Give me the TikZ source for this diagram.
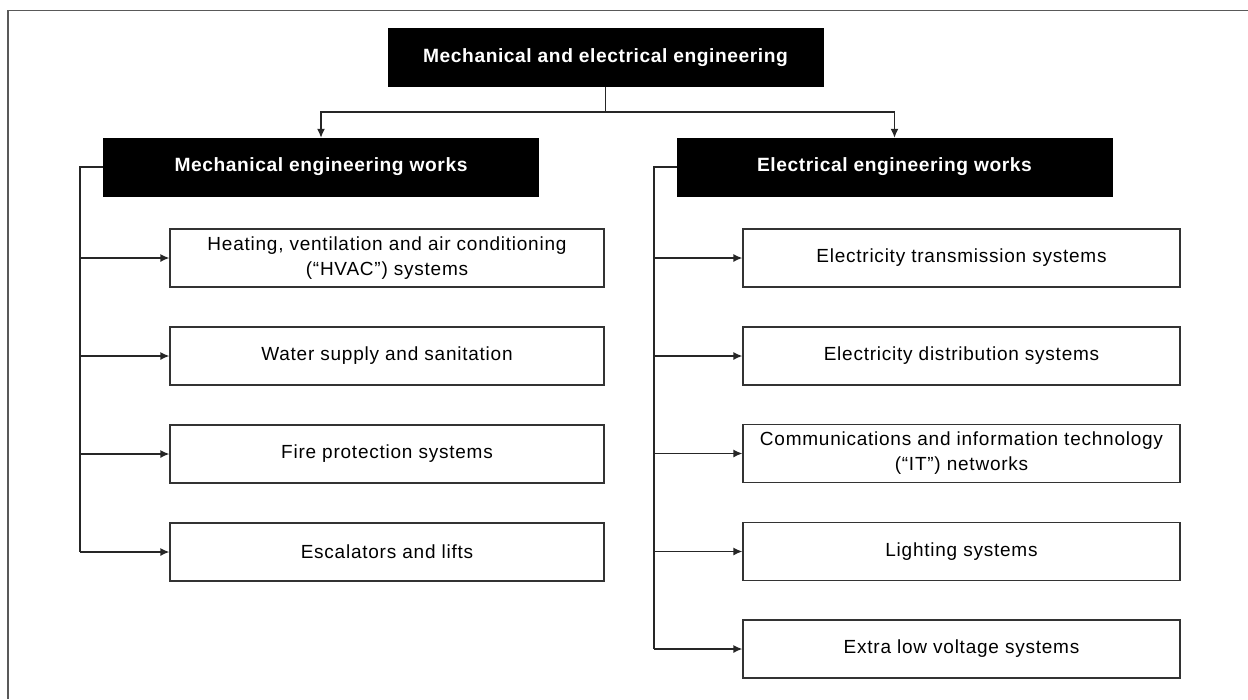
\documentclass[tikz,border=0pt]{standalone}
\usepackage{fontspec}
\setmainfont{Liberation Sans}
\usetikzlibrary{arrows.meta}
\newfontfamily\headfont[LetterSpace=3]{Liberation Sans}
\newfontfamily\itemfont[LetterSpace=4]{Liberation Sans}
\begin{document}
\begin{tikzpicture}[x=1pt,y=-1pt,
 headbox/.style={fill=black, draw=black, text=white, font=\headfont\fontsize{19.2}{23}\selectfont\bfseries, minimum width=435pt, minimum height=58pt, inner sep=0pt},
 itembox/.style={draw=black!80, line width=1.2pt, fill=white, font=\itemfont\fontsize{19}{25}\selectfont, minimum height=58pt, align=center, inner sep=0pt},
 leftitem/.style={itembox, minimum width=434pt},
 rightitem/.style={itembox, minimum width=437pt},
 conn/.style={line width=1.4pt, draw=black!85},
 arr/.style={conn, -{Latex[length=9pt,width=8pt]}}]
\useasboundingbox (0,0) rectangle (1248,699);
\draw[line width=1.2pt, black!65] (8,699) -- (8,10.5) -- (1248,10.5);

\node[headbox] (top) at (605.5,57.5) {Mechanical and electrical engineering};
\node[headbox] (mech) at (321,167) {Mechanical engineering works};
\node[headbox] (elec) at (894.5,167) {Electrical engineering works};

\node[leftitem] (h1) at (387,258) {Heating, ventilation and air conditioning\\(“HVAC”) systems};
\node[leftitem] (h2) at (387,356) {Water supply and sanitation};
\node[leftitem] (h3) at (387,454) {Fire protection systems};
\node[leftitem] (h4) at (387,552) {Escalators and lifts};

\node[rightitem] (e1) at (961.5,258) {Electricity transmission systems};
\node[rightitem] (e2) at (961.5,356) {Electricity distribution systems};
\node[rightitem] (e3) at (961.5,453.5) {Communications and information technology\\(“IT”) networks};
\node[rightitem] (e4) at (961.5,551.5) {Lighting systems};
\node[rightitem] (e5) at (961.5,649) {Extra low voltage systems};

\coordinate (tj) at (605.5,112);
\draw[conn] (top.south) -- (tj);
\draw[arr] (tj) -| (mech.north);
\draw[arr] (tj) -| (elec.north);

\coordinate (ls) at (80,167);
\coordinate (rs) at (654,167);
\draw[conn] (mech.west) -- (ls) -- (ls |- h4.west);
\draw[conn] (elec.west) -- (rs) -- (rs |- e5.west);
\foreach \n in {h1,h2,h3,h4} \draw[arr] (ls |- \n.west) -- (\n.west);
\foreach \n in {e1,e2,e3,e4,e5} \draw[arr] (rs |- \n.west) -- (\n.west);
\end{tikzpicture}
\end{document}
